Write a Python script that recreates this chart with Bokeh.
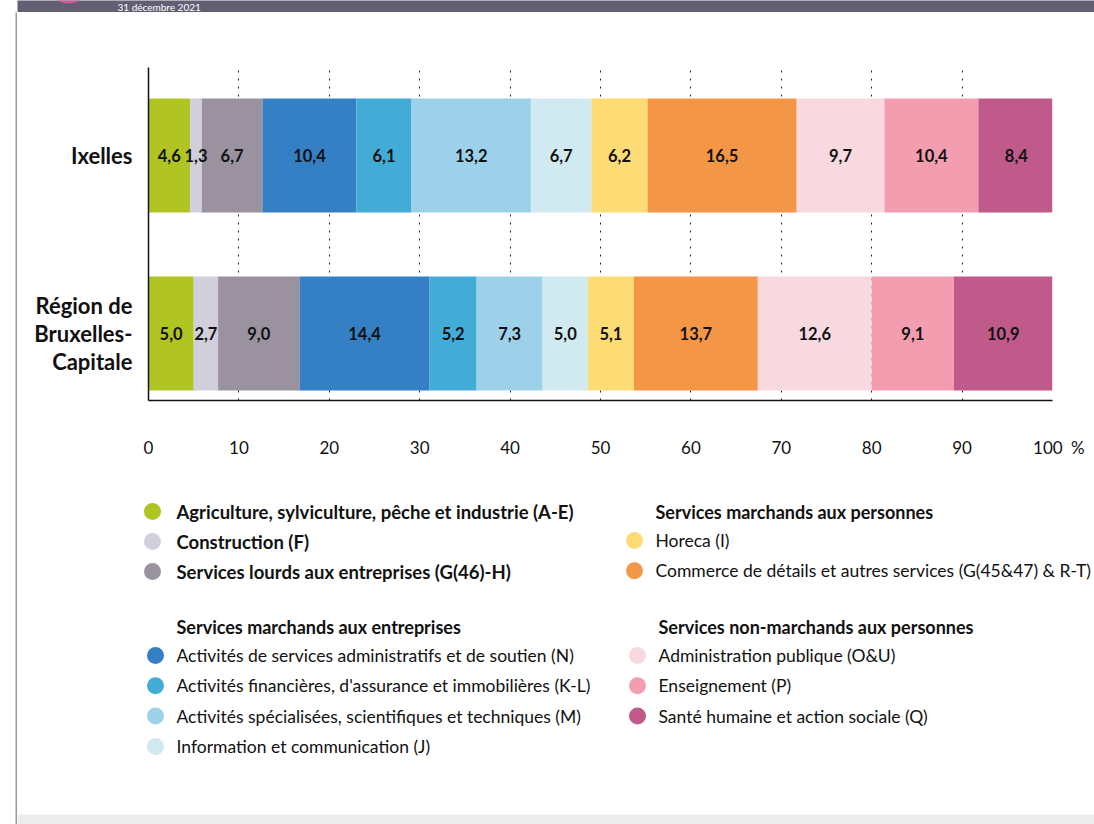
from bokeh.plotting import figure
from bokeh.layouts import row, column
from bokeh.models import Range1d, FixedTicker, ColumnDataSource
from bokeh.core.properties import value
from bokeh.embed import file_html
from bokeh.resources import INLINE

# ---------------- data ----------------
header_text = "31 décembre 2021"
regions = ["Ixelles", "Région de Bruxelles-Capitale"]
region_tick_labels = ["Ixelles", "Région de\nBruxelles-\nCapitale"]
region_pos = [2, 1]

sectors = [
    "Agriculture, sylviculture, pêche et industrie (A-E)",
    "Construction (F)",
    "Services lourds aux entreprises (G(46)-H)",
    "Activités de services administratifs et de soutien (N)",
    "Activités financières, d'assurance et immobilières (K-L)",
    "Activités spécialisées, scientifiques et techniques (M)",
    "Information et communication (J)",
    "Horeca (I)",
    "Commerce de détails et autres services (G(45&47) & R-T)",
    "Administration publique (O&U)",
    "Enseignement (P)",
    "Santé humaine et action sociale (Q)",
]
ixelles = [4.6, 1.3, 6.7, 10.4, 6.1, 13.2, 6.7, 6.2, 16.5, 9.7, 10.4, 8.4]
bruxelles = [5.0, 2.7, 9.0, 14.4, 5.2, 7.3, 5.0, 5.1, 13.7, 12.6, 9.1, 10.9]
colors = ["#b0c423", "#d1cfdc", "#9a929e", "#3580c4", "#42acd6", "#9dd1ea",
          "#d1e9f0", "#fddc75", "#f39646", "#f9d9e0", "#f29db0", "#bf5a8a"]
x_ticks = [0, 10, 20, 30, 40, 50, 60, 70, 80, 90, 100]
x_unit = "%"

group_titles = ["", "Services marchands aux entreprises",
                "Services marchands aux personnes",
                "Services non-marchands aux personnes"]
group_members = [[0, 1, 2], [3, 4, 5, 6], [7, 8], [9, 10, 11]]

FONT = "Lato"
INK = "#111111"
HEADER = "#625f72"
BORDER = "#9a96a6"

def fmt(v):
    return f"{v:.1f}".replace(".", ",")

def bare(f):
    if "frame_align" in f.properties():
        f.frame_align = False
    f.outline_line_color = None
    return f

# ---------------- left border strip ----------------
strip = bare(figure(width=17, height=824, x_range=Range1d(0, 17), y_range=Range1d(824, 0),
                    output_backend="svg", toolbar_location=None, min_border=0))
strip.axis.visible = False
strip.grid.visible = False
strip.quad(left=15, right=17, top=12, bottom=824, color=BORDER, line_color=None)

# ---------------- header band ----------------
header = bare(figure(width=1077, height=12, x_range=Range1d(17, 1094), y_range=Range1d(12, 0),
                     output_backend="svg", toolbar_location=None, min_border=0,
                     background_fill_color=HEADER, border_fill_color=HEADER))
header.axis.visible = False
header.grid.visible = False
header.scatter(x=[68], y=[-19], size=44, marker="circle", color="#d45a98", line_color=None)
header.text(x=[117], y=[6.5], text=[header_text], text_font=value(FONT), text_font_size="10px",
            text_color="white", text_align="left", text_baseline="middle")

# ---------------- bar chart ----------------
p = bare(figure(width=1077, height=458, x_range=Range1d(0, 100), y_range=Range1d(0.6236, 2.4944),
                output_backend="svg", toolbar_location=None,
                min_border_left=131, min_border_right=42, min_border_top=55, min_border_bottom=70))

bar_rows = {"y": [], "left": [], "right": [], "color": [], "tx": [], "label": []}
for pos, vals in zip(region_pos, [ixelles, bruxelles]):
    acc = 0.0
    for v, c in zip(vals, colors):
        bar_rows["y"].append(pos)
        bar_rows["left"].append(acc)
        bar_rows["right"].append(acc + v)
        bar_rows["color"].append(c)
        bar_rows["tx"].append(acc + v / 2)
        bar_rows["label"].append(fmt(v))
        acc += v
src = ColumnDataSource(bar_rows)
p.hbar(y="y", left="left", right="right", height=0.64, color="color", line_color=None, source=src)
p.text(x="tx", y="y", text="label", source=src, text_font=value(FONT), text_font_size="16.5px",
       text_font_style="bold", text_color=INK, text_align="center", text_baseline="middle")

p.xaxis.ticker = FixedTicker(ticks=x_ticks)
# unit shown after the last tick, keeping "100" centred on its tick
p.xaxis.major_label_overrides = {x_ticks[-1]: "\u2003" + str(x_ticks[-1]) + "\u2002" + x_unit}
p.xaxis.major_tick_line_color = None
p.xaxis.minor_tick_line_color = None
p.xaxis.major_tick_out = 0
p.xaxis.major_label_standoff = 36
p.xaxis.major_label_text_font = FONT
p.xaxis.major_label_text_font_size = "17px"
p.xaxis.major_label_text_color = INK
p.xaxis.axis_line_color = INK
p.xaxis.axis_line_width = 1.5

p.yaxis.ticker = FixedTicker(ticks=region_pos)
p.yaxis.major_label_overrides = {pos: lab for pos, lab in zip(region_pos, region_tick_labels)}
p.yaxis.major_tick_line_color = None
p.yaxis.minor_tick_line_color = None
p.yaxis.major_tick_out = 0
p.yaxis.major_label_standoff = 16
p.yaxis.major_label_text_font = FONT
p.yaxis.major_label_text_font_size = "22px"
p.yaxis.major_label_text_font_style = "bold"
p.yaxis.major_label_text_color = INK
p.yaxis.major_label_text_line_height = 1.04
p.yaxis.axis_line_color = INK
p.yaxis.axis_line_width = 1.5

p.xgrid.ticker = FixedTicker(ticks=x_ticks[1:])
p.xgrid.grid_line_color = "#222222"
p.xgrid.grid_line_dash = "2 6"
p.xgrid.grid_line_width = 1
p.ygrid.visible = False

# ---------------- legend ----------------
lg = bare(figure(width=1077, height=354, x_range=Range1d(17, 1094), y_range=Range1d(824, 470),
                 output_backend="svg", toolbar_location=None, min_border=0))
lg.axis.visible = False
lg.grid.visible = False

# layout of the four legend blocks: (circle x, text x, first row y)
blocks = [(152, 176, 511), (155, 176, 626), (634, 655, 511), (637, 658, 626)]
step = 30
cx, cy, cc = [], [], []
tx, ty, tt, ts, tz = [], [], [], [], []
for (bx, btx, by), title, members in zip(blocks, group_titles, group_members):
    yy = by
    if title:
        tx.append(btx); ty.append(yy); tt.append(title); ts.append("bold"); tz.append("18px")
        yy += step - 1
    for i in members:
        cx.append(bx); cy.append(yy); cc.append(colors[i])
        tx.append(btx); ty.append(yy); tt.append(sectors[i])
        ts.append("bold" if not title else "normal")
        tz.append("18.5px" if not title else "17.5px")
        yy += step + (0.3 if title else 0)

lg.scatter(x=cx, y=cy, size=17, marker="circle", color=cc, line_color=None)
lg.text(x=tx, y=ty, text=tt, text_font=value(FONT), text_font_size=tz,
        text_font_style=ts, text_color=INK, text_align="left", text_baseline="middle")
lg.quad(left=17, right=1094, top=814, bottom=824, color="#ececec", line_color=None)

layout = row(strip, column(header, p, lg))
open("out.html", "w").write(file_html(layout, INLINE))
